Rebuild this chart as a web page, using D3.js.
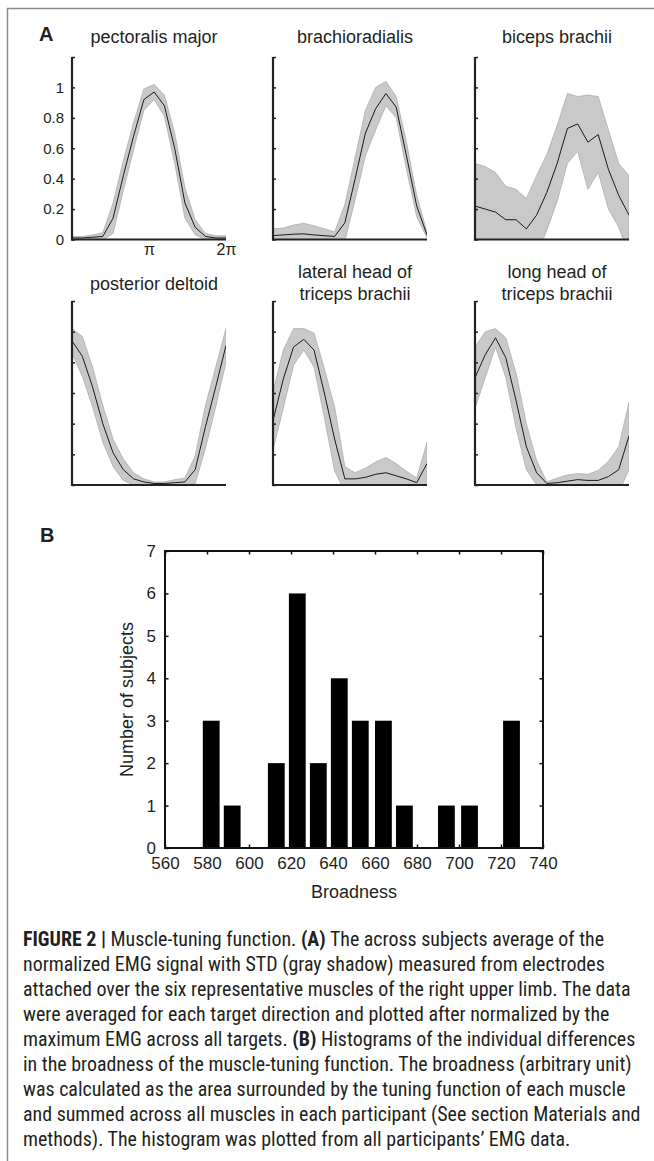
<!DOCTYPE html>
<html>
<head>
<meta charset="utf-8">
<script src="https://cdn.jsdelivr.net/npm/d3@7"></script>
<style>
  html, body { margin: 0; padding: 0; background: #fff; }
  svg { display: block; }
</style>
</head>
<body>
<svg id="fig" width="654" height="1161"></svg>
<script>
// ---- data ----
var muscleTitles = [
  ['pectoralis major'], ['brachioradialis'], ['biceps brachii'],
  ['posterior deltoid'], ['lateral head of', 'triceps brachii'], ['long head of', 'triceps brachii']
];
// 16 target directions, 0 .. 2pi
var pectoralisMean = [0.01, 0.01, 0.015, 0.02, 0.14, 0.42, 0.68, 0.92, 0.97, 0.88, 0.60, 0.24, 0.08, 0.02, 0.01, 0.01];
var pectoralisStd  = [0.01, 0.01, 0.015, 0.025, 0.10, 0.10, 0.09, 0.07, 0.05, 0.07, 0.10, 0.10, 0.05, 0.02, 0.015, 0.015];
var brachioMean = [0.026, 0.03, 0.035, 0.037, 0.03, 0.025, 0.02, 0.11, 0.40, 0.70, 0.86, 0.96, 0.87, 0.55, 0.22, 0.03];
var brachioStd  = [0.045, 0.045, 0.06, 0.07, 0.06, 0.045, 0.03, 0.12, 0.14, 0.15, 0.14, 0.08, 0.07, 0.09, 0.07, 0.02];
var bicepsMean = [0.22, 0.20, 0.18, 0.13, 0.13, 0.07, 0.16, 0.31, 0.50, 0.73, 0.76, 0.64, 0.69, 0.46, 0.29, 0.16];
var bicepsStd  = [0.28, 0.28, 0.26, 0.22, 0.20, 0.20, 0.26, 0.25, 0.25, 0.23, 0.18, 0.31, 0.25, 0.26, 0.21, 0.26];
var deltoidMean = [0.94, 0.84, 0.64, 0.40, 0.21, 0.10, 0.04, 0.02, 0.01, 0.01, 0.015, 0.02, 0.10, 0.38, 0.64, 0.91];
var deltoidStd  = [0.08, 0.13, 0.13, 0.12, 0.09, 0.07, 0.04, 0.02, 0.01, 0.01, 0.02, 0.025, 0.09, 0.14, 0.13, 0.11];
var lateralMean = [0.42, 0.69, 0.90, 0.95, 0.88, 0.60, 0.30, 0.04, 0.04, 0.05, 0.07, 0.08, 0.06, 0.04, 0.015, 0.14];
var lateralStd  = [0.19, 0.19, 0.12, 0.07, 0.11, 0.16, 0.21, 0.08, 0.04, 0.06, 0.08, 0.10, 0.08, 0.05, 0.03, 0.14];
var longMean = [0.70, 0.85, 0.96, 0.83, 0.55, 0.25, 0.08, 0.01, 0.015, 0.025, 0.035, 0.03, 0.03, 0.055, 0.10, 0.32];
var longStd  = [0.20, 0.15, 0.06, 0.13, 0.18, 0.15, 0.08, 0.01, 0.03, 0.04, 0.04, 0.04, 0.065, 0.10, 0.15, 0.22];

var tuningYTicks = [0, 0.2, 0.4, 0.6, 0.8, 1, 1.2];
var tuningYLabels = ['0', '0.2', '0.4', '0.6', '0.8', '1', ''];
var tuningXTicks = [Math.PI, 2 * Math.PI];
var tuningXLabels = ['\u03c0', '2\u03c0'];

// histogram (panel B)
var binCenters = [582, 592, 602, 613, 623, 633, 643, 653, 664, 674, 684, 694, 705, 715, 725];
var binCounts  = [3, 1, 0, 2, 6, 2, 4, 3, 3, 1, 0, 1, 1, 0, 3];
var histXTicks = [560, 580, 600, 620, 640, 660, 680, 700, 720, 740];
var histYTicks = [0, 1, 2, 3, 4, 5, 6, 7];

var captionLines = [
  '**FIGURE 2 |** Muscle-tuning function. **(A)** The across subjects average of the',
  'normalized EMG signal with STD (gray shadow) measured from electrodes',
  'attached over the six representative muscles of the right upper limb. The data',
  'were averaged for each target direction and plotted after normalized by the',
  'maximum EMG across all targets. **(B)** Histograms of the individual differences',
  'in the broadness of the muscle-tuning function. The broadness (arbitrary unit)',
  'was calculated as the area surrounded by the tuning function of each muscle',
  'and summed across all muscles in each participant (See section Materials and',
  'methods). The histogram was plotted from all participants\u2019 EMG data.'
];

var panels = [
  { mean: pectoralisMean, std: pectoralisStd },
  { mean: brachioMean, std: brachioStd },
  { mean: bicepsMean, std: bicepsStd },
  { mean: deltoidMean, std: deltoidStd },
  { mean: lateralMean, std: lateralStd },
  { mean: longMean, std: longStd }
];

// ---- layout ----
var FONT = '"Liberation Sans", Arial, Helvetica, sans-serif';
var INK = '#231f20';
var colX = [[72, 226], [273, 427], [475, 629]];
var rowY = [[239.5, 57], [485, 301]];
var titleBase = [43, 290];

var svg = d3.select('#fig');

// outer frame (left + top edges only)
svg.append('path')
  .attr('d', 'M7.5,1161 V8.5 H654')
  .attr('fill', 'none')
  .attr('stroke', '#8a8a8a')
  .attr('stroke-width', 1.5);

svg.append('text').text('A')
  .attr('x', 39).attr('y', 41)
  .attr('font-family', FONT).attr('font-weight', 'bold').attr('font-size', 20).attr('fill', INK);
svg.append('text').text('B')
  .attr('x', 40).attr('y', 542)
  .attr('font-family', FONT).attr('font-weight', 'bold').attr('font-size', 20).attr('fill', INK);

var defs = svg.append('defs');

panels.forEach(function(p, i) {
  var col = i % 3, row = Math.floor(i / 3);
  var x = d3.scaleLinear().domain([0, 2 * Math.PI]).range(colX[col]);
  var y = d3.scaleLinear().domain([0, 1.2]).range(rowY[row]);
  var step = 2 * Math.PI / (p.mean.length - 1);

  var g = svg.append('g').attr('class', 'tuning');
  var clipId = 'clip' + i;
  defs.append('clipPath').attr('id', clipId)
    .append('rect')
    .attr('x', x.range()[0]).attr('y', y.range()[1])
    .attr('width', x.range()[1] - x.range()[0])
    .attr('height', y.range()[0] - y.range()[1]);

  var pts = p.mean.map(function(m, k) { return { t: k * step, m: m, s: p.std[k] }; });

  var band = d3.area()
    .x(function(d) { return x(d.t); })
    .y0(function(d) { return y(d.m - d.s); })
    .y1(function(d) { return y(d.m + d.s); });
  var line = d3.line()
    .x(function(d) { return x(d.t); })
    .y(function(d) { return y(d.m); });

  var plot = g.append('g').attr('clip-path', 'url(#' + clipId + ')');
  plot.append('path').datum(pts)
    .attr('d', band)
    .attr('fill', '#c9c9c9')
    .attr('stroke', '#a8a8a8')
    .attr('stroke-width', 0.7);
  plot.append('path').datum(pts)
    .attr('d', line)
    .attr('fill', 'none')
    .attr('stroke', '#1a1a1a')
    .attr('stroke-width', 1);

  // y axis, ticks inward
  var yAxis = d3.axisRight(y).tickValues(tuningYTicks).tickSize(3).tickFormat('');
  var ya = g.append('g').attr('transform', 'translate(' + x.range()[0] + ',0)').call(yAxis);
  ya.select('.domain').remove();
  ya.selectAll('line').attr('stroke', '#222').attr('stroke-width', 1.5);
  g.append('line')
    .attr('x1', x.range()[0]).attr('x2', x.range()[0])
    .attr('y1', y.range()[1]).attr('y2', y.range()[0] + 1)
    .attr('stroke', '#222').attr('stroke-width', 2.2);
  g.append('line')
    .attr('x1', x.range()[0] - 1).attr('x2', x.range()[1])
    .attr('y1', y.range()[0]).attr('y2', y.range()[0])
    .attr('stroke', '#222').attr('stroke-width', 2.2);

  if (i === 0) {
    var yl = d3.axisLeft(y).tickValues(tuningYTicks).tickSize(0).tickPadding(8)
      .tickFormat(function(d, k) { return tuningYLabels[k]; });
    var yg = g.append('g').attr('transform', 'translate(' + x.range()[0] + ',0)').call(yl);
    yg.select('.domain').remove();
    yg.selectAll('text').attr('font-family', FONT).attr('font-size', 15).attr('fill', INK);
    var xl = d3.axisBottom(x).tickValues(tuningXTicks).tickSize(0).tickPadding(4)
      .tickFormat(function(d, k) { return tuningXLabels[k]; });
    var xg = g.append('g').attr('transform', 'translate(0,' + y.range()[0] + ')').call(xl);
    xg.select('.domain').remove();
    xg.selectAll('text').attr('font-family', FONT).attr('font-size', 16).attr('fill', INK);
  }

  var title = muscleTitles[i];
  var cx = (x.range()[0] + x.range()[1]) / 2 + 5;
  var t = svg.append('text')
    .attr('text-anchor', 'middle')
    .attr('font-family', FONT).attr('font-size', 18).attr('fill', INK);
  if (title.length === 1) {
    t.append('tspan').attr('x', cx).attr('y', titleBase[row]).text(title[0]);
  } else {
    t.append('tspan').attr('x', cx).attr('y', titleBase[row] - 12).text(title[0]);
    t.append('tspan').attr('x', cx).attr('y', titleBase[row] + 10).text(title[1]);
  }
});

// ---- panel B: histogram ----
var hx = d3.scaleLinear().domain([560, 740]).range([165, 543]);
var hy = d3.scaleLinear().domain([0, 7]).range([848, 551]);
var binStep = binCenters[1] - binCenters[0];
var hg = svg.append('g').attr('class', 'hist');

hg.selectAll('rect.bar')
  .data(binCenters.map(function(c, k) { return { c: c, n: binCounts[k] }; }).filter(function(d) { return d.n > 0; }))
  .enter()
  .append('rect')
  .attr('class', 'bar')
  .attr('x', function(d) { return hx(d.c - binStep * 0.4); })
  .attr('width', function(d) { return hx(d.c + binStep * 0.4) - hx(d.c - binStep * 0.4); })
  .attr('y', function(d) { return hy(d.n); })
  .attr('height', function(d) { return hy(0) - hy(d.n); })
  .attr('fill', '#000');

function styleTicks(sel) {
  sel.select('.domain').remove();
  sel.selectAll('line').attr('stroke', '#111').attr('stroke-width', 1.5);
  sel.selectAll('text').attr('font-family', FONT).attr('font-size', 17).attr('fill', INK);
}
hg.append('g').attr('transform', 'translate(0,' + hy(0) + ')')
  .call(d3.axisBottom(hx).tickValues(histXTicks).tickSize(-3.5).tickPadding(9).tickFormat(d3.format('d')))
  .call(styleTicks);
hg.append('g').attr('transform', 'translate(0,' + hy(7) + ')')
  .call(d3.axisTop(hx).tickValues(histXTicks).tickSize(-3.5).tickFormat(''))
  .call(styleTicks);
hg.append('g').attr('transform', 'translate(' + hx(560) + ',0)')
  .call(d3.axisLeft(hy).tickValues(histYTicks).tickSize(-3.5).tickPadding(9).tickFormat(d3.format('d')))
  .call(styleTicks);
hg.append('g').attr('transform', 'translate(' + hx(740) + ',0)')
  .call(d3.axisRight(hy).tickValues(histYTicks).tickSize(-3.5).tickFormat(''))
  .call(styleTicks);
hg.append('rect')
  .attr('x', hx(560)).attr('y', hy(7))
  .attr('width', hx(740) - hx(560)).attr('height', hy(0) - hy(7))
  .attr('fill', 'none').attr('stroke', '#111').attr('stroke-width', 2);

hg.append('text').text('Broadness')
  .attr('x', (hx(560) + hx(740)) / 2).attr('y', 898)
  .attr('text-anchor', 'middle')
  .attr('font-family', FONT).attr('font-size', 18).attr('fill', INK);
hg.append('text').text('Number of subjects')
  .attr('transform', 'translate(133,' + (hy(3.5)) + ') rotate(-90)')
  .attr('text-anchor', 'middle')
  .attr('font-family', FONT).attr('font-size', 18).attr('fill', INK);

// ---- caption ----
var CAP_FONT = '"Liberation Sans Narrow", "Roboto Condensed", "DejaVu Sans Condensed", Roboto, sans-serif';
var cap = svg.append('g').attr('class', 'caption');
var capTexts = captionLines.map(function(line, k) {
  var t = cap.append('text')
    .attr('x', 23).attr('y', 946 + k * 25)
    .attr('font-family', CAP_FONT).attr('font-size', 20).attr('fill', INK);
  line.split('**').forEach(function(part, j) {
    if (!part) return;
    t.append('tspan').text(part).attr('font-weight', j % 2 ? 'bold' : 'normal');
  });
  return t;
});
// fit the longest line to the column width
var widest = d3.max(capTexts, function(t) { return t.node().getComputedTextLength(); });
var capSize = 20 * 618 / widest;
capTexts.forEach(function(t) { t.attr('font-size', capSize); });
</script>
</body>
</html>
